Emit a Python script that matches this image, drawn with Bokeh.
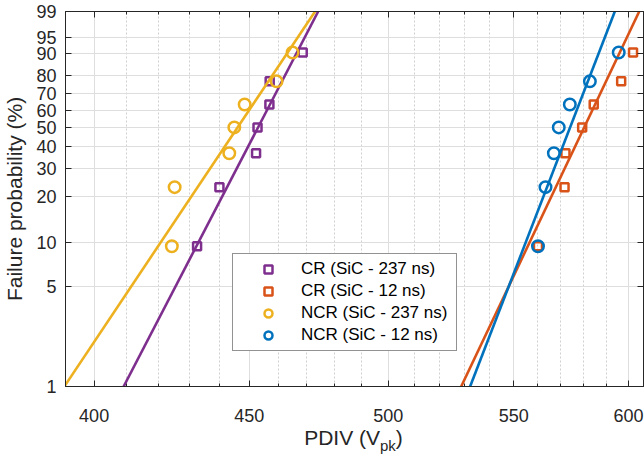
import numpy as np
from bokeh.plotting import figure
from bokeh.models import (Range1d, FixedTicker, LogAxis, LinearAxis,
                          Legend, LegendItem, Div)
from bokeh.layouts import column
from bokeh.embed import file_html
from bokeh.resources import INLINE

# ---- data: PDIV (V_pk) samples, sorted, 7 per series ----
cr_237 = [432.5, 439.9, 452.3, 452.8, 456.9, 457.0, 468.6]
cr_12 = [560.2, 571.6, 572.0, 579.3, 584.4, 596.7, 602.1]
ncr_237 = [424.3, 425.2, 443.2, 444.9, 448.4, 459.4, 465.0]
ncr_12 = [560.2, 563.4, 567.0, 569.1, 573.9, 582.7, 595.6]

series_labels = ["CR (SiC - 237 ns)", "CR (SiC - 12 ns)",
                 "NCR (SiC - 237 ns)", "NCR (SiC - 12 ns)"]
# Weibull fit lines: scale (V) and shape
fit_scale = [457.0, 584.9, 451.1, 577.8]
fit_shape = [41.5, 45.35, 32.2, 55.8]

x_ticks = [400, 450, 500, 550, 600]
x_minor = [410, 420, 430, 440, 460, 470, 480, 490, 510, 520, 530, 540,
           560, 570, 580, 590]
prob_ticks = [1, 5, 10, 20, 30, 40, 50, 60, 70, 80, 90, 95, 99]

colors = ["#7E2F8E", "#D95319", "#EDB120", "#0072BD"]
markers = ["square", "square", "circle", "circle"]
sizes = [8, 8, 11.5, 11.5]


def wb(p):
    p = np.asarray(p, dtype=float)
    return np.log(-np.log(1.0 - p))


FONT = "Liberation Sans"
AX = "#262626"

y_lo, y_hi = float(wb(0.01)), float(wb(0.99))

p = figure(width=644, height=426, x_axis_type="log",
           x_range=Range1d(391.4, 606.9), y_range=Range1d(y_lo, y_hi),
           output_backend="svg", toolbar_location=None,
           min_border_left=64, min_border_right=1, min_border_top=11,
           min_border_bottom=40)
p.background_fill_color = "white"
p.border_fill_color = "white"
p.outline_line_color = AX
p.outline_line_width = 1

xt = FixedTicker(ticks=x_ticks, minor_ticks=x_minor)
yt_vals = [float(v) for v in wb(np.array(prob_ticks) / 100.0)]
yt = FixedTicker(ticks=yt_vals)

p.xaxis.ticker = xt
p.yaxis.ticker = yt
p.xaxis.major_label_overrides = {t: str(t) for t in x_ticks}
p.yaxis.major_label_overrides = {v: str(t) for v, t in zip(yt_vals, prob_ticks)}

for ax in (p.xaxis[0], p.yaxis[0]):
    ax.axis_line_color = AX
    ax.major_tick_line_color = AX
    ax.minor_tick_line_color = AX
    ax.major_tick_in = 6
    ax.major_tick_out = 0
    ax.minor_tick_in = 3
    ax.minor_tick_out = 0
    ax.major_label_text_font = FONT
    ax.major_label_text_font_size = "18px"
    ax.major_label_text_color = AX
p.xaxis.major_label_standoff = 22
p.yaxis.major_label_standoff = 9

p.yaxis.axis_label = "Failure probability (%)"
p.yaxis.axis_label_text_font = FONT
p.yaxis.axis_label_text_font_size = "21px"
p.yaxis.axis_label_text_font_style = "normal"
p.yaxis.axis_label_text_color = AX
p.yaxis.axis_label_standoff = 7

top = LogAxis(ticker=xt, major_label_text_font_size="0px", major_label_standoff=0,
              major_tick_in=6, major_tick_out=0, minor_tick_in=3, minor_tick_out=0,
              axis_line_color=AX, major_tick_line_color=AX, minor_tick_line_color=AX)
right = LinearAxis(ticker=yt, major_label_text_font_size="0px", major_label_standoff=0,
                   major_tick_in=6, major_tick_out=0, minor_tick_in=0, minor_tick_out=0,
                   axis_line_color=AX, major_tick_line_color=AX)
top.major_label_overrides = {t: "" for t in x_ticks}
right.major_label_overrides = {v: "" for v in yt_vals}
p.add_layout(top, "above")
p.add_layout(right, "right")

p.xgrid.grid_line_color = "#dedede"
p.xgrid.minor_grid_line_color = "#cfcfcf"
p.xgrid.minor_grid_line_dash = "2 2"
p.ygrid.grid_line_color = "#dedede"

series = [cr_237, cr_12, ncr_237, ncr_12]
scatter_renderers = []
for vals, c, m, s, a, b in zip(series, colors, markers, sizes, fit_scale, fit_shape):
    n = len(vals)
    ranks = (np.arange(1, n + 1) - 0.3) / (n + 0.4)
    wl = np.array([y_lo, y_hi])
    xl = a * np.exp(wl / b)
    p.line(xl, wl, line_color=c, line_width=2.6)
    r = p.scatter(vals, wb(ranks), marker=m, size=s, line_color=c,
                  line_width=2.5, fill_color=None)
    scatter_renderers.append(r)

legend = Legend(items=[LegendItem(label=l, renderers=[r])
                       for l, r in zip(series_labels, scatter_renderers)],
                location=(167, 35))
legend.border_line_color = AX
legend.border_line_width = 1
legend.background_fill_color = "white"
legend.background_fill_alpha = 1
legend.label_text_font = FONT
legend.label_text_font_size = "17px"
legend.label_text_color = "#000000"
legend.glyph_width = 60
legend.glyph_height = 20
legend.label_height = 20
legend.label_width = 150
legend.spacing = 2
legend.padding = 5
legend.margin = 0
legend.label_standoff = 3
p.add_layout(legend)

xlabel = Div(
    text=("<div style=\"width:579px;font-family:'Liberation Sans';font-size:21px;"
          "color:#262626;text-align:center;line-height:24px;white-space:nowrap;\">PDIV (V"
          "<span style=\"font-size:15px;position:relative;top:6px;\">pk</span>)</div>"),
    width=579, height=31, margin=(0, 0, 0, 64),
    styles={"text-align": "center"})

layout = column(p, xlabel, spacing=0)

open("out.html", "w").write(file_html(layout, INLINE))
